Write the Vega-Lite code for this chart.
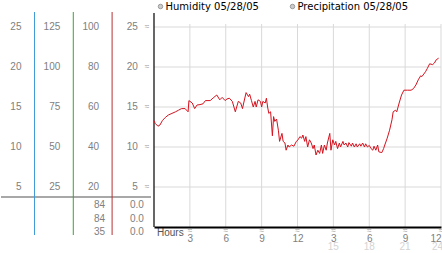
{
  "$schema": "https://vega.github.io/schema/vega-lite/v6.json",
  "padding": 0,
  "spacing": 0,
  "config": {"view": {"stroke": null}, "font": "Liberation Sans"},
  "resolve": {"scale": {"x": "independent", "y": "independent", "color": "independent"}},
  "datasets": {
    "humidity": [
      {"hour":0.0,"pct":53.2},{"hour":0.1,"pct":51.8},{"hour":0.33,"pct":50.4},{"hour":0.5,"pct":51},{"hour":0.7,"pct":53.2},
      {"hour":0.95,"pct":54.8},{"hour":1.2,"pct":56},{"hour":1.5,"pct":56.8},{"hour":1.8,"pct":57.6},{"hour":2.05,"pct":58.4},
      {"hour":2.3,"pct":59.2},{"hour":2.6,"pct":59.2},{"hour":2.85,"pct":57.6},{"hour":2.92,"pct":63.2},{"hour":3.2,"pct":62},
      {"hour":3.4,"pct":59.2},{"hour":3.6,"pct":61},{"hour":3.85,"pct":61.2},{"hour":4.1,"pct":61.6},{"hour":4.3,"pct":63.2},
      {"hour":4.7,"pct":63.2},{"hour":5.0,"pct":64.8},{"hour":5.25,"pct":66},{"hour":5.5,"pct":63.6},{"hour":5.7,"pct":64.8},
      {"hour":5.95,"pct":63.2},{"hour":6.1,"pct":64},{"hour":6.3,"pct":64.4},{"hour":6.55,"pct":62.8},{"hour":6.8,"pct":57.6},
      {"hour":7.05,"pct":62.8},{"hour":7.25,"pct":62},{"hour":7.4,"pct":59.2},{"hour":7.5,"pct":62},{"hour":7.7,"pct":67.2},
      {"hour":7.9,"pct":65.2},{"hour":8.0,"pct":66.4},{"hour":8.15,"pct":63.2},{"hour":8.3,"pct":60},{"hour":8.45,"pct":62.8},
      {"hour":8.55,"pct":60},{"hour":8.7,"pct":63.6},{"hour":8.9,"pct":62.8},{"hour":9.0,"pct":60},{"hour":9.1,"pct":62.8},
      {"hour":9.3,"pct":62},{"hour":9.4,"pct":64.4},{"hour":9.5,"pct":60},{"hour":9.6,"pct":56.8},{"hour":9.75,"pct":57.6},
      {"hour":9.9,"pct":45.6},{"hour":10.0,"pct":55.2},{"hour":10.1,"pct":52.8},{"hour":10.25,"pct":54},{"hour":10.4,"pct":48.4},
      {"hour":10.5,"pct":42.8},{"hour":10.7,"pct":46.8},{"hour":10.8,"pct":42.8},{"hour":10.95,"pct":42},{"hour":11.05,"pct":38.4},
      {"hour":11.2,"pct":41},{"hour":11.3,"pct":40},{"hour":11.5,"pct":41},{"hour":11.7,"pct":40.4},{"hour":11.9,"pct":42.8},
      {"hour":12.05,"pct":43.6},{"hour":12.2,"pct":45.2},{"hour":12.35,"pct":44.4},{"hour":12.45,"pct":46},{"hour":12.6,"pct":42.8},
      {"hour":12.7,"pct":45.2},{"hour":12.85,"pct":40},{"hour":13.0,"pct":43.6},{"hour":13.15,"pct":42},{"hour":13.3,"pct":39.2},
      {"hour":13.4,"pct":41},{"hour":13.55,"pct":36},{"hour":13.7,"pct":38.4},{"hour":13.85,"pct":36.8},{"hour":14.0,"pct":41},
      {"hour":14.1,"pct":36.8},{"hour":14.25,"pct":41},{"hour":14.4,"pct":38.4},{"hour":14.5,"pct":42},{"hour":14.7,"pct":46.8},
      {"hour":14.8,"pct":38.4},{"hour":14.95,"pct":43.6},{"hour":15.1,"pct":41},{"hour":15.2,"pct":42.8},{"hour":15.35,"pct":39.2},
      {"hour":15.5,"pct":42},{"hour":15.6,"pct":40},{"hour":15.8,"pct":42.8},{"hour":15.9,"pct":41},{"hour":16.05,"pct":42},
      {"hour":16.2,"pct":40},{"hour":16.3,"pct":42.2},{"hour":16.5,"pct":40.4},{"hour":16.6,"pct":42},{"hour":16.75,"pct":40},
      {"hour":16.9,"pct":41.6},{"hour":17.0,"pct":40},{"hour":17.2,"pct":41.6},{"hour":17.3,"pct":40.4},{"hour":17.45,"pct":42},
      {"hour":17.6,"pct":40},{"hour":17.7,"pct":41.6},{"hour":17.85,"pct":40},{"hour":18.0,"pct":40.8},{"hour":18.15,"pct":39.2},
      {"hour":18.3,"pct":38.4},{"hour":18.4,"pct":40.4},{"hour":18.55,"pct":38.4},{"hour":18.7,"pct":41},{"hour":18.8,"pct":37.6},
      {"hour":19.05,"pct":37.2},{"hour":19.2,"pct":39.2},{"hour":19.3,"pct":41},{"hour":19.5,"pct":44.4},{"hour":19.7,"pct":48.4},
      {"hour":19.9,"pct":53.6},{"hour":20.0,"pct":57.6},{"hour":20.2,"pct":58.4},{"hour":20.3,"pct":57.6},{"hour":20.5,"pct":62},
      {"hour":20.7,"pct":66},{"hour":20.9,"pct":68.4},{"hour":21.2,"pct":68.4},{"hour":21.5,"pct":68.4},{"hour":21.7,"pct":69.2},
      {"hour":21.9,"pct":71},{"hour":22.1,"pct":73.6},{"hour":22.3,"pct":75.6},{"hour":22.4,"pct":75.2},{"hour":22.7,"pct":77.6},
      {"hour":22.85,"pct":79.2},{"hour":23.05,"pct":81.6},{"hour":23.3,"pct":81.2},{"hour":23.45,"pct":82},{"hour":23.6,"pct":83.6},
      {"hour":23.8,"pct":84.4}
    ],
    "scaleRows": [
      {"pct":100,"c1":"25","c2":"125","c3":"100","c4":"25"},
      {"pct":80,"c1":"20","c2":"100","c3":"80","c4":"20"},
      {"pct":60,"c1":"15","c2":"75","c3":"60","c4":"15"},
      {"pct":40,"c1":"10","c2":"50","c3":"40","c4":"10"},
      {"pct":20,"c1":"5","c2":"25","c3":"20","c4":"5"}
    ],
    "summary": [
      {"stat":"current","c3":"84","c4":"0.0"},
      {"stat":"high","c3":"84","c4":"0.0"},
      {"stat":"low","c3":"35","c4":"0.0"}
    ],
    "dividers": [{"key":"c1"},{"key":"c2"},{"key":"c3"}],
    "hourTicks": [{"hour":3},{"hour":6},{"hour":9},{"hour":12},{"hour":15},{"hour":18},{"hour":21},{"hour":24}],
    "levels": [{"pct":20},{"pct":40},{"pct":60},{"pct":80},{"pct":100}],
    "series": [{"series":"Humidity 05/28/05"},{"series":"Precipitation 05/28/05"}],
    "one": [{}]
  },
  "hconcat": [
    {
      "width": 150,
      "height": 227,
      "resolve": {"scale": {"y": "independent"}},
      "layer": [
        {
          "layer": [
            {
              "data": {"name": "one"},
              "mark": {"type": "rule", "color": "#a8a8a8", "strokeWidth": 2},
              "encoding": {
                "y": {"datum": 15, "type": "quantitative", "scale": {"domain": [0, 113.5], "nice": false}, "axis": null}
              }
            },
            {
              "data": {"name": "dividers"},
              "mark": {"type": "rule", "strokeWidth": 1, "xOffset": 13},
              "encoding": {
                "x": {"field": "key", "type": "nominal", "scale": {"type": "point", "domain": ["c1","c2","c3","c4"], "padding": 0.433, "align": 0.61}, "axis": null},
                "y": {"datum": 107.5, "type": "quantitative", "axis": null},
                "y2": {"datum": -4},
                "color": {"field": "key", "type": "nominal", "scale": {"domain": ["c1","c2","c3"], "range": ["#3f9ad6","#34a634","#b83232"]}, "legend": null}
              }
            },
            {
              "data": {"name": "scaleRows"},
              "transform": [{"fold": ["c1","c2","c3","c4"], "as": ["key","label"]}],
              "mark": {"type": "text", "align": "right", "baseline": "middle", "fontSize": 10, "color": "#808080", "font": "Liberation Sans"},
              "encoding": {
                "x": {"field": "key", "type": "nominal", "axis": null},
                "y": {"field": "pct", "type": "quantitative", "axis": null},
                "text": {"field": "label"}
              }
            },
            {
              "data": {"name": "scaleRows"},
              "mark": {"type": "text", "align": "center", "baseline": "middle", "fontSize": 8, "color": "#a0a0a0", "dx": 9, "text": "≈"},
              "encoding": {
                "x": {"datum": "c4", "type": "nominal", "axis": null},
                "y": {"field": "pct", "type": "quantitative", "axis": null}
              }
            }
          ]
        },
        {
          "data": {"name": "summary"},
          "transform": [{"fold": ["c3","c4"], "as": ["key","val"]}],
          "mark": {"type": "text", "align": "right", "baseline": "middle", "fontSize": 10, "color": "#808080", "dx": 6, "font": "Liberation Sans"},
          "encoding": {
            "x": {"field": "key", "type": "nominal", "axis": null},
            "y": {"field": "stat", "type": "nominal", "scale": {"type": "point", "domain": ["current","high","low"], "range": [205, 232], "padding": 0}, "axis": null},
            "text": {"field": "val"}
          }
        }
      ]
    },
    {
      "width": 287,
      "height": 227,
      "layer": [
        {
          "data": {"name": "levels"},
          "mark": {"type": "rule", "color": "#d9d9d9", "strokeWidth": 1},
          "encoding": {
            "y": {"field": "pct", "type": "quantitative", "scale": {"domain": [0, 113.5], "nice": false}, "axis": null},
            "x": {"datum": 0, "type": "quantitative", "scale": {"domain": [0, 24], "nice": false}},
            "x2": {"datum": 24}
          }
        },
        {
          "data": {"name": "hourTicks"},
          "mark": {"type": "rule", "color": "#d9d9d9", "strokeWidth": 1},
          "encoding": {
            "x": {"field": "hour", "type": "quantitative",
              "axis": {"values": [3,6,9,12,15,18,21,24], "labelExpr": "datum.value % 12 == 0 ? '12' : '' + (datum.value % 12)", "grid": false, "ticks": false, "tickSize": 0, "domainColor": "#000000", "domainWidth": 2, "labelFont": "Liberation Sans", "labelFontSize": 10, "labelColor": "#808080", "labelPadding": 11, "labelBaseline": "middle", "title": null, "labelFlush": true, "labelOverlap": false, "zindex": 1}},
            "y": {"datum": 0, "type": "quantitative", "axis": null},
            "y2": {"datum": 101.5}
          }
        },
        {
          "data": {"name": "one"},
          "mark": {"type": "rule", "color": "#000000", "strokeWidth": 1.2},
          "encoding": {
            "x": {"datum": 0, "type": "quantitative"},
            "y": {"datum": 0, "type": "quantitative", "axis": null},
            "y2": {"datum": 107}
          }
        },
        {
          "data": {"name": "humidity"},
          "mark": {"type": "line", "strokeWidth": 1, "interpolate": "linear", "color": "#d4121e"},
          "encoding": {
            "x": {"field": "hour", "type": "quantitative"},
            "y": {"field": "pct", "type": "quantitative", "axis": null}
          }
        },
        {
          "data": {"name": "series"},
          "transform": [{"filter": "false"}],
          "mark": {"type": "point", "filled": true, "shape": "circle"},
          "encoding": {
            "x": {"datum": 0, "type": "quantitative"},
            "y": {"datum": 0, "type": "quantitative", "axis": null},
            "fill": {"field": "series", "type": "nominal",
              "scale": {"domain": ["Humidity 05/28/05", "Precipitation 05/28/05"], "range": ["#cccccc", "#cccccc"]},
              "legend": {"orient": "none", "legendX": 154.5, "legendY": 1.5, "direction": "horizontal", "title": null, "symbolType": "circle", "symbolSize": 20, "symbolStrokeWidth": 1, "symbolStrokeColor": "#999999", "symbolOpacity": 1, "labelFont": "DejaVu Sans", "labelFontSize": 10, "labelOffset": 0, "columnPadding": 28, "padding": 0, "rowPadding": 0,
                "encoding": {
                  "labels": {"update": {"fill": {"signal": "datum.label == 'Humidity 05/28/05' ? '#c8102e' : '#000000'"}}}
                }}}
          }
        },
        {
          "data": {"name": "hourTicks"},
          "mark": {"type": "text", "text": "≈", "fontSize": 8, "color": "#a0a0a0", "align": "center", "baseline": "middle", "dy": 3.5},
          "encoding": {
            "x": {"field": "hour", "type": "quantitative"},
            "y": {"datum": 0, "type": "quantitative", "axis": null}
          }
        },
        {
          "data": {"name": "hourTicks"},
          "transform": [{"filter": "datum.hour > 12 && datum.hour < 24"}],
          "mark": {"type": "text", "fontSize": 10, "font": "Liberation Sans", "color": "#d4d4d4", "align": "center", "baseline": "middle", "dy": 20},
          "encoding": {
            "x": {"field": "hour", "type": "quantitative"},
            "y": {"datum": 0, "type": "quantitative", "axis": null},
            "text": {"field": "hour"}
          }
        },
        {
          "data": {"name": "hourTicks"},
          "transform": [{"filter": "datum.hour == 24"}],
          "mark": {"type": "text", "fontSize": 10, "font": "Liberation Sans", "color": "#d4d4d4", "align": "right", "baseline": "middle", "dy": 20, "dx": 2},
          "encoding": {
            "x": {"field": "hour", "type": "quantitative"},
            "y": {"datum": 0, "type": "quantitative", "axis": null},
            "text": {"field": "hour"}
          }
        },
        {
          "data": {"name": "one"},
          "mark": {"type": "text", "text": "Hours", "fontSize": 10, "font": "Liberation Sans", "color": "#555555", "align": "left", "baseline": "middle", "dx": 3, "dy": 6},
          "encoding": {
            "x": {"datum": 0, "type": "quantitative"},
            "y": {"datum": 0, "type": "quantitative", "axis": null}
          }
        }
      ]
    }
  ]
}
